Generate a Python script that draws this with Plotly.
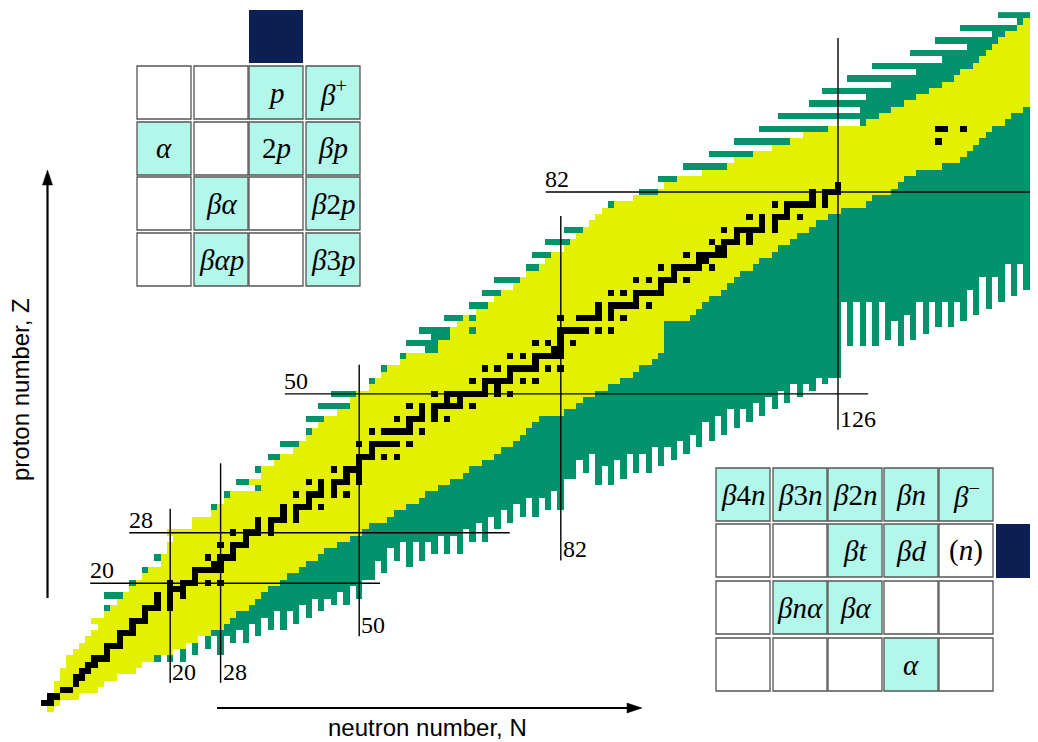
import numpy as np
import plotly.graph_objects as go

# ---------------- data ----------------
Z_VALUES = list(range(0, 111))
N_VALUES = list(range(0, 158))

# per proton number Z: first N of proton-rich (green) nuclei, first and last N of known (yellow) nuclei
GREEN_START = [1, 0, 1, 2, 2, 3, 3, 4, 4, 5, 6, 7, 8, 9, 8, 10, 10, 12, 10, 14,
               14, 16, 16, 19, 18, 20, 20, 21, 20, 24, 24, 27, 27, 29, 29, 34, 31, 35, 34, 37,
               36, 40, 38, 42, 42, 44, 42, 47, 44, 49, 46, 52, 52, 54, 54, 57, 57, 61, 58, 62,
               60, 66, 64, 69, 68, 72, 70, 75, 72, 77, 77, 80, 78, 83, 80, 85, 83, 87, 88, 89,
               90, 94, 95, 99, 98, 105, 102, 110, 106, 116, 110, 121, 114, 130, 117, 130, 122, 131, 124, 135,
               128, 139, 132, 143, 138, 147, 142, 151, 146, 155, 152]
YELLOW_START = [1, 0, 1, 2, 2, 3, 3, 4, 4, 5, 6, 7, 8, 9, 8, 10, 11, 12, 13, 14,
                15, 16, 17, 19, 19, 20, 20, 21, 20, 24, 24, 27, 28, 29, 30, 35, 33, 35, 35, 37,
                38, 40, 41, 42, 43, 44, 45, 47, 49, 49, 50, 52, 53, 54, 55, 57, 58, 63, 63, 65,
                65, 66, 67, 69, 71, 72, 73, 75, 76, 77, 79, 80, 81, 83, 84, 85, 86, 87, 88, 89,
                91, 94, 98, 99, 101, 105, 109, 110, 113, 116, 119, 121, 125, 131, 133, 135, 137, 139, 141, 143,
                145, 146, 148, 149, 150, 151, 152, 153, 155, 156, 157]
YELLOW_END = [1, 2, 5, 8, 9, 11, 14, 15, 17, 20, 22, 24, 26, 28, 29, 30, 32, 33, 34, 35,
              37, 38, 40, 41, 43, 44, 46, 48, 50, 51, 54, 55, 57, 59, 60, 62, 64, 66, 67, 69,
              71, 72, 74, 75, 76, 77, 78, 82, 84, 85, 87, 89, 91, 93, 94, 96, 97, 98, 98, 98,
              98, 98, 102, 103, 104, 105, 107, 108, 109, 110, 112, 113, 115, 116, 118, 119, 121, 122, 124, 126,
              130, 131, 134, 135, 136, 138, 142, 145, 146, 147, 148, 149, 150, 152, 153, 155, 156, 157, 200, 200,
              200, 200, 200, 200, 200, 200, 200, 200, 200, 200, 156]
GREEN_END = [200] * 110 + [156]

# per neutron number N: lowest Z of the neutron-rich (green) nuclei
GREEN_BOTTOM = [99] * 18 + [
    8, 11, 8, 11, 8, 11, 9, 12, 10, 12, 9, 12, 11, 13, 11, 14, 12, 15, 13, 16,          # N 18-37
    13, 16, 14, 17, 15, 18, 16, 18, 17, 19, 17, 20, 18, 21, 21, 24, 22, 26, 24, 27,     # N 38-57
    23, 27, 24, 27, 25, 28, 25, 28, 25, 29, 27, 30, 27, 31, 29, 32, 30, 33, 31, 34,     # N 58-77
    31, 34, 32, 35, 32, 37, 37, 40, 38, 41, 36, 39, 36, 40, 37, 41, 38, 41, 38, 42,     # N 78-97
    39, 42, 40, 43, 41, 44, 42, 46, 43, 47, 44, 48, 45, 48, 46, 49, 47, 50, 48, 51,     # N 98-117
    49, 52, 50, 52, 51, 53, 52, 53, 53, 65, 58, 65, 58, 65, 58, 65, 59, 62, 58, 63,     # N 118-137
    59, 65, 60, 65, 61, 65, 61, 65, 62, 67, 63, 69, 64, 69, 65, 71, 66, 71, 67, 72]     # N 138-157

EXTRA_GREEN = [(68, 62), (68, 60)]  # (N, Z)

# stable / very long lived nuclei: Z -> list of N
STABLE = {
    1: [0, 1], 2: [1, 2], 3: [3, 4], 4: [5], 5: [5, 6], 6: [6, 7], 7: [7, 8], 8: [8, 9, 10],
    9: [10], 10: [10, 11, 12], 11: [12], 12: [12, 13, 14], 13: [14], 14: [14, 15, 16],
    15: [16], 16: [16, 17, 18, 20], 17: [18, 20], 18: [18, 20, 22], 19: [20, 21, 22],
    20: [20, 22, 23, 24, 26, 28], 21: [24], 22: [24, 25, 26, 27, 28], 23: [27, 28],
    24: [26, 28, 29, 30], 25: [30], 26: [28, 30, 31, 32], 27: [32], 28: [30, 32, 33, 34, 36],
    29: [34, 36], 30: [34, 36, 37, 38, 40], 31: [38, 40], 32: [38, 40, 41, 42, 44], 33: [42],
    34: [40, 42, 43, 44, 46, 48], 35: [44, 46], 36: [42, 44, 46, 47, 48, 50], 37: [48, 50],
    38: [46, 48, 49, 50], 39: [50], 40: [50, 51, 52, 54, 56], 41: [52],
    42: [50, 52, 53, 54, 55, 56, 58], 44: [52, 54, 55, 56, 57, 58, 60], 45: [58],
    46: [56, 58, 59, 60, 62, 64], 47: [60, 62], 48: [58, 60, 62, 63, 64, 65, 66, 68],
    49: [64, 66], 50: [62, 64, 65, 66, 67, 68, 69, 70, 72, 74], 51: [70, 72],
    52: [68, 70, 71, 72, 73, 74, 76, 78], 53: [74], 54: [70, 72, 74, 75, 76, 77, 78, 80, 82],
    55: [78], 56: [74, 76, 78, 79, 80, 81, 82], 57: [81, 82], 58: [78, 80, 82, 84], 59: [82],
    60: [82, 83, 84, 85, 86, 88, 90], 62: [82, 85, 86, 87, 88, 90, 92], 63: [88, 90],
    64: [88, 90, 91, 92, 93, 94, 96], 65: [94], 66: [90, 92, 94, 95, 96, 97, 98], 67: [98],
    68: [94, 96, 98, 99, 100, 102], 69: [100], 70: [98, 100, 101, 102, 103, 104, 106],
    71: [104, 105], 72: [102, 104, 105, 106, 107, 108], 73: [107, 108],
    74: [106, 108, 109, 110, 112], 75: [110, 112], 76: [108, 110, 111, 112, 113, 114, 116],
    77: [114, 116], 78: [112, 114, 116, 117, 118, 120], 79: [118],
    80: [116, 118, 119, 120, 121, 122, 124], 81: [122, 124], 82: [122, 124, 125, 126],
    83: [126], 90: [142], 92: [142, 143, 146],
}

MAGIC = [20, 28, 50, 82, 126]

TL_LABELS = [["", "", "<i>p</i>", "<i>β</i><sup>+</sup>"],
             ["<i>α</i>", "", "2<i>p</i>", "<i>βp</i>"],
             ["", "<i>βα</i>", "", "<i>β</i>2<i>p</i>"],
             ["", "<i>βαp</i>", "", "<i>β</i>3<i>p</i>"]]
BR_LABELS = [["<i>β</i>4<i>n</i>", "<i>β</i>3<i>n</i>", "<i>β</i>2<i>n</i>", "<i>βn</i>", "<i>β</i><sup>−</sup>"],
             ["", "", "<i>βt</i>", "<i>βd</i>", "(<i>n</i>)"],
             ["", "<i>βnα</i>", "<i>βα</i>", "", ""],
             ["", "", "", "<i>α</i>", ""]]

# ---------------- styles / layout ----------------
PAGE_OFF = 8                 # browser body margin
W, H = 1038 - PAGE_OFF, 742 - PAGE_OFF
YELLOW = "#e3f000"
GREEN = "#02936c"
BLACK = "#000000"
AQUA = "#b3f6ea"
NAVY = "#0c1f52"
SERIF = "Liberation Serif"
SANS = "Liberation Sans"

grid = np.full((len(Z_VALUES), len(N_VALUES)), np.nan)
for zi, Z in enumerate(Z_VALUES):
    for ni, N in enumerate(N_VALUES):
        if YELLOW_START[zi] <= N <= YELLOW_END[zi]:
            grid[zi, ni] = 2
        elif GREEN_START[zi] <= N < YELLOW_START[zi]:
            grid[zi, ni] = 1
        elif YELLOW_END[zi] < N <= GREEN_END[zi] and Z >= GREEN_BOTTOM[ni]:
            grid[zi, ni] = 1
for N, Z in EXTRA_GREEN:
    grid[Z, N] = 1
for Z, Ns in STABLE.items():
    for N in Ns:
        grid[Z, N] = 3

fig = go.Figure()
fig.add_trace(go.Heatmap(
    x=N_VALUES, y=Z_VALUES, z=grid.tolist(), zmin=0.5, zmax=3.5,
    colorscale=[[0, GREEN], [1 / 3, GREEN], [1 / 3, YELLOW], [2 / 3, YELLOW], [2 / 3, BLACK], [1, BLACK]],
    showscale=False, hoverinfo="skip", xgap=0, ygap=0))

# magic number lines (extent along the other axis)
H_LINES = {20: (7.3, 53.3), 28: (13.5, 73.9), 50: (38.2, 130.8), 82: (79.6, 165)}
V_LINES = {20: (4.2, 31.8), 28: (4.2, 39.0), 50: (11.6, 54.6), 82: (23.6, 78.2), 126: (44.3, 106.4)}
annotations = []
for m in MAGIC:
    if m in H_LINES:
        a, b = H_LINES[m]
        fig.add_trace(go.Scatter(x=[a, b], y=[m, m], mode="lines",
                                 line=dict(color="black", width=1.4), hoverinfo="skip", showlegend=False))
        annotations.append(dict(x=a - 0.4, y=m, xref="x", yref="y", text=str(m), showarrow=False,
                                xanchor="left", yanchor="bottom", yshift=-2,
                                font=dict(family=SERIF, size=24, color="black")))
    if m in V_LINES:
        a, b = V_LINES[m]
        fig.add_trace(go.Scatter(x=[m, m], y=[a, b], mode="lines",
                                 line=dict(color="black", width=1.4), hoverinfo="skip", showlegend=False))
        annotations.append(dict(x=m, y=a, xref="x", yref="y", text=str(m), showarrow=False,
                                xanchor="left", yanchor="bottom", xshift=0, yshift=-4,
                                font=dict(family=SERIF, size=24, color="black")))


def px(x):
    return (x - PAGE_OFF) / W


def py(y):
    return 1 - (y - PAGE_OFF) / H


shapes = []

# axis arrows (shaft + filled head) and titles
shapes.append(dict(type="line", xref="paper", yref="paper", x0=px(47.5), x1=px(47.5), y0=py(598), y1=py(182),
                   line=dict(color="black", width=2.2)))
shapes.append(dict(type="path", xref="paper", yref="paper",
                   path=f"M {px(47.5)} {py(170)} L {px(42.5)} {py(185)} L {px(52.5)} {py(185)} Z",
                   fillcolor="black", line=dict(color="black", width=0.5)))
shapes.append(dict(type="line", xref="paper", yref="paper", x0=px(217), x1=px(630), y0=py(708), y1=py(708),
                   line=dict(color="black", width=2.2)))
shapes.append(dict(type="path", xref="paper", yref="paper",
                   path=f"M {px(642)} {py(708)} L {px(627)} {py(703)} L {px(627)} {py(713)} Z",
                   fillcolor="black", line=dict(color="black", width=0.5)))
annotations.append(dict(x=px(20), y=py(390), xref="paper", yref="paper", text="proton number, Z",
                        textangle=-90, showarrow=False, xanchor="center", yanchor="middle",
                        font=dict(family=SANS, size=24, color="black")))
annotations.append(dict(x=px(427), y=py(727), xref="paper", yref="paper", text="neutron number, N",
                        showarrow=False, xanchor="center", yanchor="middle",
                        font=dict(family=SANS, size=24, color="black")))


def inset(labels, col_x, row_y, cw, ch):
    for r, row in enumerate(labels):
        for c, lab in enumerate(row):
            x0, y0 = col_x[c], row_y[r]
            fill = AQUA if (lab and lab != "(<i>n</i>)") else "white"
            shapes.append(dict(type="rect", xref="paper", yref="paper",
                               x0=px(x0), x1=px(x0 + cw), y0=py(y0 + ch), y1=py(y0),
                               fillcolor=fill, line=dict(color="#555555", width=1.3)))
            if lab:
                annotations.append(dict(x=px(x0 + cw / 2), y=py(y0 + ch / 2), xref="paper", yref="paper",
                                        text=lab, showarrow=False, xanchor="center", yanchor="middle",
                                        font=dict(family=SERIF, size=29, color="black")))


inset(TL_LABELS, [137, 194, 249, 306], [66, 122, 177, 233], 54, 53)
inset(BR_LABELS, [716, 773, 828, 884, 939], [468, 524, 581, 638], 54, 53)
shapes.append(dict(type="rect", xref="paper", yref="paper", x0=px(249), x1=px(303), y0=py(63), y1=py(10),
                   fillcolor=NAVY, line=dict(width=0)))
shapes.append(dict(type="rect", xref="paper", yref="paper", x0=px(996), x1=px(1040), y0=py(578), y1=py(524),
                   fillcolor=NAVY, line=dict(width=0)))

# axis ranges: page pixel -> (N, Z) with cell pitch 6.3 px / 6.31 px
x_lo = (PAGE_OFF - 44.2) / 6.3
x_hi = (1038 - 44.2) / 6.3
y_hi = (709.4 - PAGE_OFF) / 6.31
y_lo = (709.4 - 742) / 6.31

fig.update_layout(
    width=W, height=H, autosize=False,
    margin=dict(l=0, r=0, t=0, b=0, pad=0),
    paper_bgcolor="white", plot_bgcolor="white",
    xaxis=dict(range=[x_lo, x_hi], visible=False, fixedrange=True),
    yaxis=dict(range=[y_lo, y_hi], visible=False, fixedrange=True),
    showlegend=False, shapes=shapes, annotations=annotations,
)

fig.write_html("out.html")
